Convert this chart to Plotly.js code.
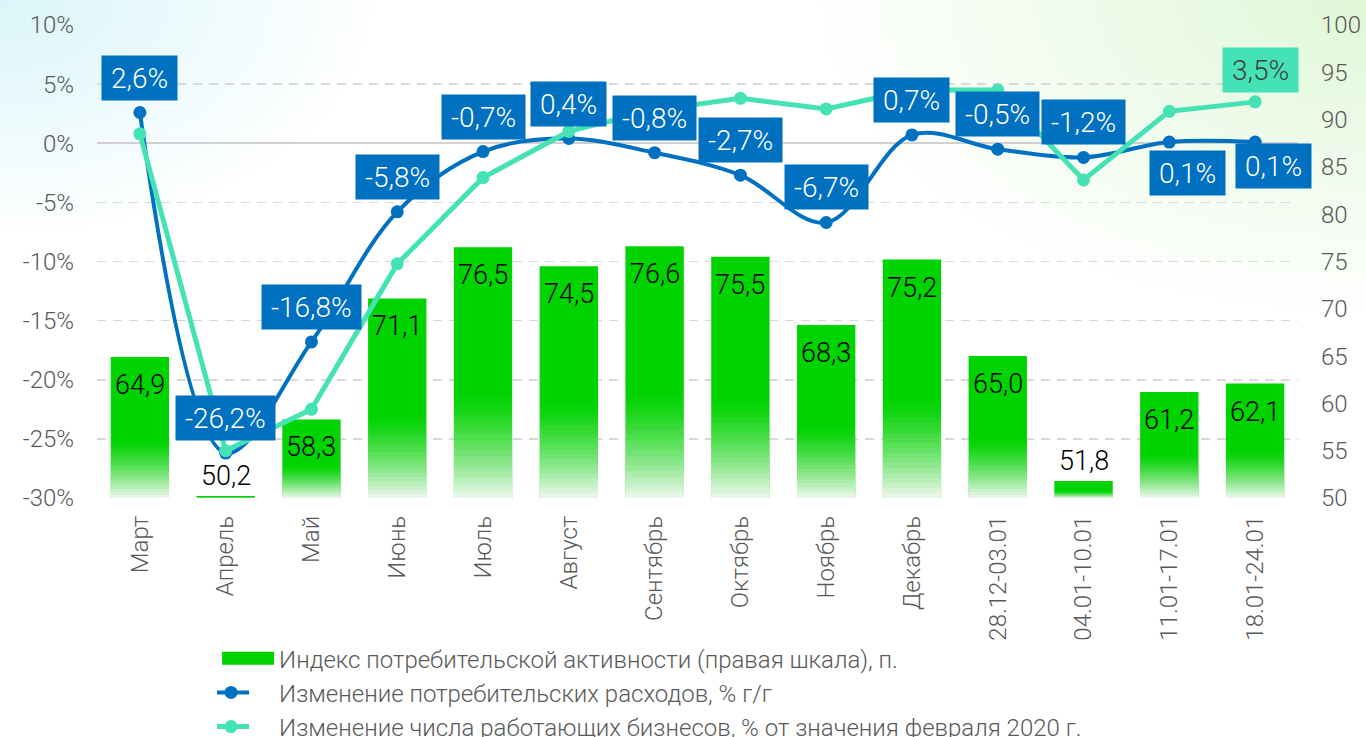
<!DOCTYPE html>
<html>
<head>
<meta charset="utf-8">
<script src="https://cdn.plot.ly/plotly-3.0.1.min.js"></script>
<style>
  html, body { margin: 0; padding: 0; width: 1366px; height: 737px; overflow: hidden; }
  body {
    background:
      radial-gradient(ellipse 380px 240px at 0% 0%, rgba(214,244,249,0.9), rgba(255,255,255,0) 100%),
      radial-gradient(ellipse 560px 320px at 100% 0%, rgba(222,247,213,0.95), rgba(255,255,255,0) 100%),
      #ffffff;
  }
  #chart { width: 1366px; height: 737px; }
</style>
</head>
<body>
<div id="chart"></div>
<script>
// ---------- DATA ----------
const categories = ['Март','Апрель','Май','Июнь','Июль','Август','Сентябрь','Октябрь','Ноябрь','Декабрь','28.12-03.01','04.01-10.01','11.01-17.01','18.01-24.01'];
const activityIndex = [64.9, 50.2, 58.3, 71.1, 76.5, 74.5, 76.6, 75.5, 68.3, 75.2, 65.0, 51.8, 61.2, 62.1];
const spendingChange = [2.6, -26.2, -16.8, -5.8, -0.7, 0.4, -0.8, -2.7, -6.7, 0.7, -0.5, -1.2, 0.1, 0.1];
const businessChange = [0.8, -26.0, -22.5, -10.2, -2.9, 1.0, 2.8, 3.8, 2.9, 4.5, 4.5, -3.1, 2.7, 3.5];
const leftTicks = [-30, -25, -20, -15, -10, -5, 0, 5, 10];
const rightTicks = [50, 55, 60, 65, 70, 75, 80, 85, 90, 95, 100];
const seriesNames = [
  'Индекс потребительской активности (правая шкала), п.',
  'Изменение потребительских расходов, % г/г',
  'Изменение числа работающих бизнесов, % от значения февраля 2020 г.'
];

// ---------- STYLE ----------
const FONT = 'Roboto, "Open Sans", sans-serif';
const GREEN = '#00d400';
const BLUE = '#0070c0';
const TEAL = '#45e2b5';
const GREY = '#595959';
const BAR_BASE = 50;      // right-axis floor where bars start
const FADE_PART = 0.42;   // lower share of each bar that fades to white
const FADE_STEPS = 20;

const fmt = v => v.toFixed(1).replace('.', ',');

// label offsets for spending labels (pixels): default above the point
function spendOffset(i) {
  if (i === 12) return {xs: 18, ys: -31};
  if (i === 13) return {xs: 18, ys: -24};
  return {xs: 0, ys: 35};
}

const traces = [
  {
    type: 'bar', name: seriesNames[0],
    x: categories, y: activityIndex.map(v => v - BAR_BASE), base: BAR_BASE,
    yaxis: 'y', width: 0.68,
    marker: {color: GREEN, line: {width: 0}},
    hoverinfo: 'skip'
  }
];
// White fade on the lower part of every bar: nested layers all starting at the bar
// base, so the whiteness accumulates towards the bottom without seams.
{
  const whiteAt = f => 0.96 * Math.pow(1 - f, 1.3);  // f: 0 at bottom -> 1 at top of fade zone
  const G = [];
  for (let j = 0; j < FADE_STEPS; j++) G.push(1 - whiteAt((j + 0.5) / FADE_STEPS));
  G.push(1);
  for (let k = 0; k < FADE_STEPS; k++) {
    const alpha = 1 - G[k] / G[k + 1];
    const h = FADE_PART * (k + 1) / FADE_STEPS;
    traces.push({
      type: 'bar', showlegend: false, hoverinfo: 'skip',
      x: categories,
      base: BAR_BASE,
      y: activityIndex.map(v => (v - BAR_BASE) * h),
      yaxis: 'y', width: 0.68,
      marker: {color: 'rgba(255,255,255,' + alpha.toFixed(4) + ')', line: {width: 0}}
    });
  }
}
traces.push(
  {
    type: 'scatter', mode: 'lines+markers', name: seriesNames[1],
    x: categories, y: spendingChange, yaxis: 'y2',
    line: {color: BLUE, width: 4, shape: 'spline', smoothing: 1},
    marker: {color: BLUE, size: 13},
    hoverinfo: 'skip'
  },
  {
    type: 'scatter', mode: 'lines+markers', name: seriesNames[2],
    x: categories, y: businessChange, yaxis: 'y2',
    line: {color: TEAL, width: 5},
    marker: {color: TEAL, size: 13},
    hoverinfo: 'skip'
  }
);

const annotations = [];
// bar value labels
categories.forEach((c, i) => {
  const v = activityIndex[i];
  const low = v - BAR_BASE < 4;
  annotations.push({
    x: c, y: v, xref: 'x', yref: 'y', showarrow: false,
    text: fmt(v), xanchor: 'center',
    yanchor: low ? 'bottom' : 'top', yshift: low ? 2 : -10,
    font: {family: FONT, size: 27, color: '#000000', weight: 300}
  });
});
// spending labels
categories.forEach((c, i) => {
  const o = spendOffset(i);
  annotations.push({
    x: c, y: spendingChange[i], xref: 'x', yref: 'y2', showarrow: false,
    text: fmt(spendingChange[i]) + '%', xanchor: 'center', yanchor: 'middle',
    xshift: o.xs, yshift: o.ys,
    bgcolor: BLUE, borderpad: 9, height: 26,
    font: {family: FONT, size: 28, color: '#ffffff', weight: 300}
  });
});
// business label (last point only)
{
  const i = categories.length - 1;
  annotations.push({
    x: categories[i], y: businessChange[i], xref: 'x', yref: 'y2', showarrow: false,
    text: fmt(businessChange[i]) + '%', xanchor: 'center', yanchor: 'middle',
    xshift: 5, yshift: 32,
    bgcolor: TEAL, borderpad: 9, height: 26,
    font: {family: FONT, size: 28, color: '#404040', weight: 300}
  });
}

const layout = {
  width: 1366, height: 737,
  paper_bgcolor: 'rgba(0,0,0,0)', plot_bgcolor: 'rgba(0,0,0,0)',
  margin: {l: 97, r: 68, t: 25, b: 239, autoexpand: false},
  separators: ', ',
  barmode: 'overlay',
  font: {family: FONT, size: 24, color: GREY, weight: 300},
  showlegend: true,
  legend: {
    x: 0.1, y: -0.292, xanchor: 'left', yanchor: 'top',
    orientation: 'v', bgcolor: 'rgba(0,0,0,0)',
    font: {family: FONT, size: 24, color: GREY, weight: 300},
    itemwidth: 52, tracegroupgap: 0
  },
  xaxis: {
    type: 'category', range: [-0.5, categories.length - 0.5], automargin: false,
    tickangle: -90, showgrid: false, showline: false, zeroline: false, ticks: '',
    ticklabelstandoff: 12,
    tickfont: {family: FONT, size: 24, color: GREY, weight: 300}
  },
  yaxis: {
    side: 'right', range: [50, 100], tickvals: rightTicks, automargin: false,
    ticktext: rightTicks.map(String),
    showgrid: false, zeroline: false, showline: false, ticks: '',
    ticklabelstandoff: 22,
    tickfont: {family: FONT, size: 24, color: GREY, weight: 300}
  },
  yaxis2: {
    side: 'left', overlaying: 'y', range: [-30, 10], automargin: false,
    tickvals: leftTicks, ticktext: leftTicks.map(v => (v < 0 ? '-' + Math.abs(v) : String(v)) + '%'),
    showgrid: true, gridcolor: '#d9d9d9', gridwidth: 1.5, griddash: '9px,7px',
    zeroline: true, zerolinecolor: '#d0d0d0', zerolinewidth: 2,
    showline: false, ticks: '',
    ticklabelstandoff: 22,
    tickfont: {family: FONT, size: 24, color: GREY, weight: 300}
  },
  annotations: annotations
};

function decorate(gd) {
  const legendTraces = gd.querySelectorAll('.legend .traces');
  legendTraces.forEach((t, k) => {
    if (k === 0) {
      t.querySelectorAll('.legendpoints path').forEach(p => {
        p.setAttribute('d', 'M-26,6.5H26V-6.5H-26Z');
        p.style.stroke = 'none';
      });
    } else {
      t.querySelectorAll('.legendlines path').forEach(p => p.setAttribute('d', 'M-4,0h36'));
      t.querySelectorAll('.legendpoints path').forEach(p => p.setAttribute('transform', 'translate(14,0)'));
    }
  });
}

const gdEl = document.getElementById('chart');
Plotly.newPlot(gdEl, traces, layout, {staticPlot: true, displayModeBar: false}).then(gd => {
  decorate(gd);
  gd.on('plotly_afterplot', () => decorate(gd));
});
</script>
</body>
</html>
